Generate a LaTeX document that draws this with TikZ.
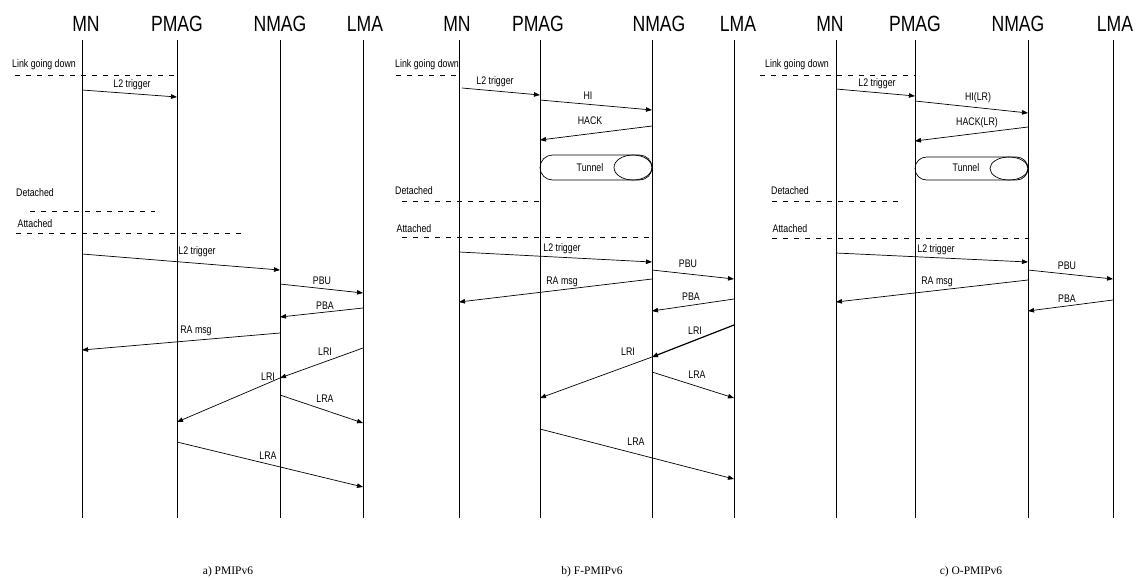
\documentclass[tikz,border=0pt]{standalone}
\usepackage{fontspec}
\setmainfont{Liberation Serif}
\newfontfamily\narrowsf[FakeStretch=0.8]{Liberation Sans}
\usetikzlibrary{arrows.meta}
\tikzset{
  life/.style={line width=.8pt},
  msg/.style={line width=.7pt,-{Triangle[length=6pt,width=4.5pt]}},
  sep/.style={line width=.6pt,dash pattern=on 5pt off 6pt},
  ttl/.style={font=\narrowsf\fontsize{22}{22}\selectfont,inner sep=0pt},
  lbl/.style={font=\narrowsf\fontsize{11}{11}\selectfont,inner sep=0pt},
  captxt/.style={font=\fontsize{11.5}{11.5}\selectfont,inner sep=0pt}
}
\begin{document}
\begin{tikzpicture}[x=1pt,y=-1pt]
  \useasboundingbox (0,0) rectangle (1138,579);
  \foreach \n/\x/\tx/\t in {mna/82/86/MN,pmaga/177/177/PMAG,nmaga/280/280/NMAG,lmaa/363/365/LMA,
    mnb/459/457/MN,pmagb/540/538/PMAG,nmagb/652/659/NMAG,lmab/734/738/LMA,
    mnc/836/830/MN,pmagc/915/915/PMAG,nmagc/1028/1018/NMAG,lmac/1113/1115/LMA}{
    \node[ttl] (\n) at (\tx,24) {\t};
    \coordinate (\n0) at (\x,40); \coordinate (\n1) at (\x,518);
    \draw[life] (\n0) -- (\n1);
  }

  \coordinate (sa1) at (15,75); \coordinate (sa2) at (177,75);
  \coordinate (sa3) at (30,211); \coordinate (sa4) at (155,211);
  \coordinate (sa5) at (16,233); \coordinate (sa6) at (245,233);
  \draw[sep] (sa1)--(sa2) (sa3)--(sa4) (sa5)--(sa6);
  \node[lbl] (linka) at (44,65) {Link going down};
  \node[lbl] (deta) at (35,193) {Detached};
  \node[lbl] (atta) at (35,224) {Attached};
  \coordinate (a1) at (82,90); \coordinate (a2) at (177,97);
  \coordinate (a3) at (82,254); \coordinate (a4) at (280,270);
  \coordinate (a5) at (280,284); \coordinate (a6) at (363,293);
  \coordinate (a7) at (363,308); \coordinate (a8) at (280,317);
  \coordinate (a9) at (280,333); \coordinate (a10) at (82,350);
  \coordinate (a11) at (363,348); \coordinate (a12) at (280,378);
  \coordinate (a13) at (177,422); \coordinate (a14) at (280,395);
  \coordinate (a15) at (363,423); \coordinate (a16) at (177,442);
  \coordinate (a17) at (363,487);
  \draw[msg] (a1)--(a2); \draw[msg] (a3)--(a4); \draw[msg] (a5)--(a6);
  \draw[msg] (a7)--(a8); \draw[msg] (a9)--(a10); \draw[msg] (a11)--(a12);
  \draw[msg] (a12)--(a13); \draw[msg] (a14)--(a15); \draw[msg] (a16)--(a17);
  \node[lbl] (la1) at (132,85) {L2 trigger};
  \node[lbl] (la2) at (197,252) {L2 trigger};
  \node[lbl] (la3) at (322,281) {PBU};
  \node[lbl] (la4) at (325,306) {PBA};
  \node[lbl] (la5) at (196,331) {RA msg};
  \node[lbl] (la6) at (325,352) {LRI};
  \node[lbl] (la7) at (268,377) {LRI};
  \node[lbl] (la8) at (325,399) {LRA};
  \node[lbl] (la9) at (268,456) {LRA};
  \node[captxt] (capa) at (228,572) {a) PMIPv6};

  \coordinate (sb1) at (396,75); \coordinate (sb2) at (459,75);
  \coordinate (sb3) at (402,201); \coordinate (sb4) at (540,201);
  \coordinate (sb5) at (402,237); \coordinate (sb6) at (652,237);
  \draw[sep] (sb1)--(sb2) (sb3)--(sb4) (sb5)--(sb6);
  \node[lbl] (linkb) at (427,65) {Link going down};
  \node[lbl] (detb) at (414,191) {Detached};
  \node[lbl] (attb) at (414,229) {Attached};
  \coordinate (b1) at (462,88); \coordinate (b2) at (540,95);
  \coordinate (b3) at (540,100); \coordinate (b4) at (652,110);
  \coordinate (b5) at (652,126); \coordinate (b6) at (540,140);
  \coordinate (b7) at (459,252); \coordinate (b8) at (652,262);
  \coordinate (b9) at (652,270); \coordinate (b10) at (734,279);
  \coordinate (b11) at (652,279); \coordinate (b12) at (459,302);
  \coordinate (b13) at (734,299); \coordinate (b14) at (652,311);
  \coordinate (b15) at (734,325); \coordinate (b16) at (652,357);
  \coordinate (b17) at (540,398); \coordinate (b18) at (652,372);
  \coordinate (b19) at (734,398); \coordinate (b20) at (540,429);
  \coordinate (b21) at (734,479);
  \draw[msg] (b1)--(b2); \draw[msg] (b3)--(b4); \draw[msg] (b5)--(b6);
  \draw[msg] (b7)--(b8); \draw[msg] (b9)--(b10); \draw[msg] (b11)--(b12);
  \draw[msg] (b13)--(b14); \draw[msg,line width=1.2pt] (b15)--(b16);
  \draw[msg] (b16)--(b17); \draw[msg] (b18)--(b19); \draw[msg] (b20)--(b21);
  \draw[line width=.7pt,rounded corners=12.5pt] (540,155) rectangle (652,180);
  \draw[line width=.7pt] (633,167.5) ellipse [x radius=19pt,y radius=12.5pt];
  \node[lbl] (tunb) at (590,168) {Tunnel};
  \node[lbl] (lb1) at (495,82) {L2 trigger};
  \node[lbl] (lb2) at (588,96) {HI};
  \node[lbl] (lb3) at (590,121) {HACK};
  \node[lbl] (lb4) at (562,249) {L2 trigger};
  \node[lbl] (lb5) at (688,264) {PBU};
  \node[lbl] (lb6) at (562,282) {RA msg};
  \node[lbl] (lb7) at (691,297) {PBA};
  \node[lbl] (lb8) at (695,331) {LRI};
  \node[lbl] (lb9) at (628,352) {LRI};
  \node[lbl] (lb10) at (697,375) {LRA};
  \node[lbl] (lb11) at (636,442) {LRA};
  \node[captxt] (capb) at (592,572) {b) F-PMIPv6};

  \coordinate (sc1) at (760,75); \coordinate (sc2) at (915,75);
  \coordinate (sc3) at (772,201); \coordinate (sc4) at (900,201);
  \coordinate (sc5) at (772,238); \coordinate (sc6) at (1028,238);
  \draw[sep] (sc1)--(sc2) (sc3)--(sc4) (sc5)--(sc6);
  \node[lbl] (linkc) at (797,65) {Link going down};
  \node[lbl] (detc) at (790,191) {Detached};
  \node[lbl] (attc) at (790,229) {Attached};
  \coordinate (c1) at (836,89); \coordinate (c2) at (915,96);
  \coordinate (c3) at (915,101); \coordinate (c4) at (1028,113);
  \coordinate (c5) at (1028,127); \coordinate (c6) at (915,141);
  \coordinate (c7) at (836,253); \coordinate (c8) at (1028,262);
  \coordinate (c9) at (1028,270); \coordinate (c10) at (1113,279);
  \coordinate (c11) at (1028,280); \coordinate (c12) at (836,302);
  \coordinate (c13) at (1113,300); \coordinate (c14) at (1028,311);
  \draw[msg] (c1)--(c2); \draw[msg] (c3)--(c4); \draw[msg] (c5)--(c6);
  \draw[msg] (c7)--(c8); \draw[msg] (c9)--(c10); \draw[msg] (c11)--(c12);
  \draw[msg] (c13)--(c14);
  \draw[line width=.7pt,rounded corners=11.5pt] (915,157) rectangle (1028,180);
  \draw[line width=.7pt] (1009,168.5) ellipse [x radius=19pt,y radius=11.5pt];
  \node[lbl] (tunc) at (966,168) {Tunnel};
  \node[lbl] (lc1) at (877,84) {L2 trigger};
  \node[lbl] (lc2) at (978,98) {HI(LR)};
  \node[lbl] (lc3) at (977,123) {HACK(LR)};
  \node[lbl] (lc4) at (936,250) {L2 trigger};
  \node[lbl] (lc5) at (1067,266) {PBU};
  \node[lbl] (lc6) at (937,282) {RA msg};
  \node[lbl] (lc7) at (1067,299) {PBA};
  \node[captxt] (capc) at (971,572) {c) O-PMIPv6};
\end{tikzpicture}
\end{document}
